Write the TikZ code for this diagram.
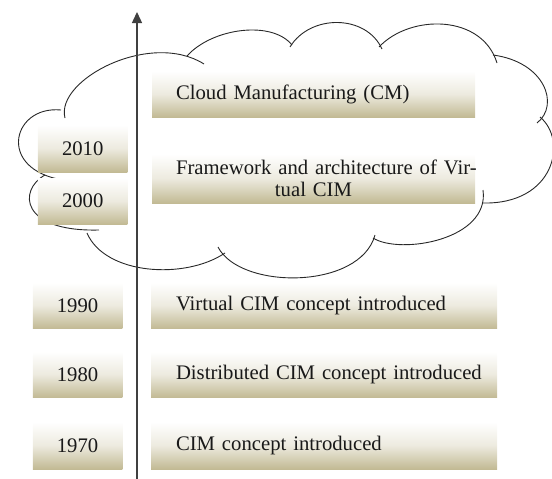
\documentclass[tikz,border=0pt]{standalone}
\usepackage{fontspec}
\setmainfont{Liberation Serif}
\usetikzlibrary{arrows.meta}
\definecolor{tan}{RGB}{194,186,148}
\definecolor{cloudline}{RGB}{40,40,40}
\begin{document}
\begin{tikzpicture}[x=1pt,y=-1pt,
  cloudedge/.style={draw=cloudline,line width=0.9pt},
  boxbase/.style={shading=axis,top color=white,bottom color=tan,middle color=tan!30,
     inner ysep=0pt,font=\fontsize{20.7}{22.5}\selectfont,text=black!90},
  yearbox/.style={boxbase,minimum width=89.5pt,minimum height=46pt,inner xsep=0pt},
  evbox/.style={boxbase,minimum height=46pt,inner xsep=0pt,align=left},
  axisline/.style={draw=black!75,line width=1.4pt,-{Triangle[length=11pt,width=10pt]}}
]
\useasboundingbox (0,0) rectangle (552,479);
% cloud outline
\draw[cloudedge] (65,118) .. controls (55,80) and (150,30) .. (204,64);
\draw[cloudedge] (187,56) .. controls (212,28) and (272,20) .. (292,45);
\draw[cloudedge] (290,47) .. controls (310,14) and (366,14) .. (382,49);
\draw[cloudedge] (379,47) .. controls (410,14) and (482,14) .. (497,63);
\draw[cloudedge] (493,55) .. controls (545,62) and (560,105) .. (537,123);
\draw[cloudedge] (540,117) .. controls (568,140) and (555,205) .. (482,203);
\draw[cloudedge] (483,190) .. controls (490,240) and (400,255) .. (373,238);
\draw[cloudedge] (375,235) .. controls (360,290) and (240,290) .. (218,247);
\draw[cloudedge] (225,253) .. controls (185,280) and (105,275) .. (87,233);
\draw[cloudedge] (45,175) .. controls (18,190) and (20,232) .. (99,230);
\draw[cloudedge] (61,110) .. controls (10,105) and (-5,175) .. (72,181);
% time axis
\coordinate (axb) at (137,480);
\coordinate (axt) at (137,12);
\draw[axisline] (axb) -- (axt);
% year boxes
\node[yearbox,minimum height=47pt] (y2010) at (82.7,148.5) {2010};
\node[yearbox] (y2000) at (82.7,201) {2000};
\node[yearbox] (y1990) at (77.5,305.5) {1990};
\node[yearbox] (y1980) at (77.5,374.5) {1980};
\node[yearbox,minimum height=47pt] (y1970) at (77.5,445.5) {1970};
% event boxes
\node[evbox,text width=323pt] (ecm) at (313.5,94) {\hspace*{24pt}Cloud Manufacturing (CM)};
\node[evbox,text width=323pt,minimum height=49pt,align=center] (efw) at (313.5,178.5)
  {\mbox{\hspace{24pt}Framework and architecture of Vir-}\\tual CIM};
\node[evbox,text width=346pt] (e1990) at (324,305.5) {\hspace*{25pt}Virtual CIM concept introduced};
\node[evbox,text width=346pt] (e1980) at (324,374.5) {\hspace*{25pt}Distributed CIM concept introduced};
\node[evbox,text width=346pt,minimum height=47pt] (e1970) at (324,445.5) {\hspace*{25pt}CIM concept introduced};
\end{tikzpicture}
\end{document}
